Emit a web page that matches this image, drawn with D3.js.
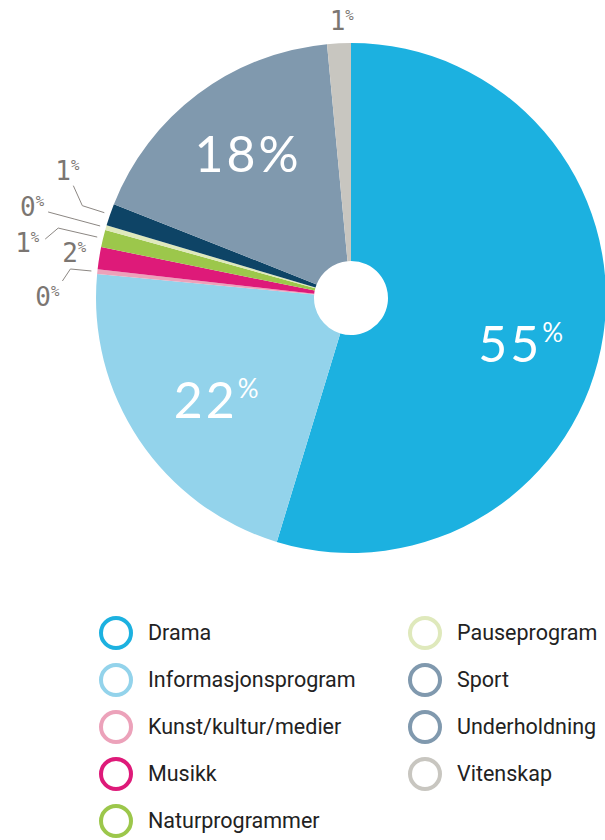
<!DOCTYPE html>
<html>
<head>
<meta charset="utf-8">
<script src="https://cdn.jsdelivr.net/npm/d3@7"></script>
<style>
  body { margin: 0; background: #fff; }
  svg { display: block; }
</style>
</head>
<body>
<div id="chart"></div>
<script>
// data (share of hours, %)
var categories = ["Drama", "Informasjonsprogram", "Kunst/kultur/medier", "Musikk",
  "Naturprogrammer", "Pauseprogram", "Sport", "Underholdning", "Vitenskap"];
var shares = [54.7, 21.8, 0.3, 1.4, 1.1, 0.3, 1.4, 17.5, 1.5];
var labels = ["55", "22", "0", "2", "1", "0", "1", "18", "1"];

var sliceColors = ["#1cb1e0", "#93d3eb", "#eca2ba", "#de1a79", "#9cc74b",
  "#dfe9bc", "#0e4466", "#8099ae", "#c8c6c0"];
var legendColors = ["#1cb1e0", "#93d3eb", "#eca2ba", "#de1a79", "#9cc74b",
  "#dfe9bc", "#8099ae", "#8099ae", "#c8c6c0"];

// inside labels: nudge from the arc centroid
var insideNudge = [[-2, 38], [12, 23], null, null, null, null, null, [2, 14], null];

// outside labels: offsets from the edge point
// [elbowX, elbowY, endX, endY, labelX, labelY], line drawn only when elbow given
var outside = [
  null,
  null,
  [-21, -2, -29, 10, -44, 35],
  [null, null, null, null, -19, 5],
  [-39, -9, -52, 2, -70, 15],
  [-26, -7, -52, -14, -68, -10],
  [-22, -7, -31, -27, -37, -33],
  null,
  [null, null, null, null, 3, -7]
];

var width = 605, height = 840;
var cx = 351, cy = 298, radius = 255, hole = 37;

var svg = d3.select("#chart").append("svg")
  .attr("width", width)
  .attr("height", height);

var g = svg.append("g").attr("transform", "translate(" + cx + "," + cy + ")");

var pie = d3.pie().sort(null).value(function (d) { return d; });
var arcs = pie(shares);
var arc = d3.arc().innerRadius(hole).outerRadius(radius);

g.selectAll("path.slice")
  .data(arcs)
  .enter()
  .append("path")
  .attr("class", "slice")
  .attr("d", arc)
  .attr("fill", function (d, i) { return sliceColors[i]; });

// big inside labels
var labelArc = d3.arc().innerRadius(175).outerRadius(175);
var inside = arcs.filter(function (d, i) { return insideNudge[i]; });

var big = g.selectAll("text.big")
  .data(inside)
  .enter()
  .append("text")
  .attr("class", "big")
  .attr("transform", function (d) {
    var c = labelArc.centroid(d), n = insideNudge[d.index];
    return "translate(" + (c[0] + n[0]) + "," + (c[1] + n[1]) + ")";
  })
  .attr("text-anchor", "middle")
  .attr("fill", "#fff")
  .style("font-family", "Lato, 'Open Sans', sans-serif")
  .style("font-weight", 400)
  .style("font-size", "50px")
  .style("letter-spacing", "3px");

big.append("tspan").text(function (d) { return labels[d.index]; });
big.append("tspan")
  .attr("dy", function (d) { return labels[d.index] === "18" ? 0 : -20; })
  .style("font-size", function (d) { return labels[d.index] === "18" ? "50px" : "26px"; })
  .text("%");

// small outside labels with leader lines
var small = arcs.filter(function (d, i) { return outside[i]; });

small.forEach(function (d) {
  var o = outside[d.index];
  var mid = (d.startAngle + d.endAngle) / 2;
  var p = d3.pointRadial(mid, radius + 6);
  if (o[0] !== null) {
    g.append("path")
      .attr("d", d3.line()([p, [p[0] + o[0], p[1] + o[1]], [p[0] + o[2], p[1] + o[3]]]))
      .attr("fill", "none")
      .attr("stroke", "#8c8783")
      .attr("stroke-width", 1);
  }
  var t = g.append("text")
    .attr("x", p[0] + o[4])
    .attr("y", p[1] + o[5])
    .attr("text-anchor", "middle")
    .attr("fill", "#7b7672")
    .style("font-family", "'DejaVu Sans Mono', monospace")
    .style("font-size", "26px");
  t.append("tspan").text(labels[d.index]);
  t.append("tspan").attr("dy", -10).style("font-size", "14px").text("%");
});

// legend, two columns
var legend = svg.append("g");
var rows = 5, rowH = 47;
var item = legend.selectAll("g.item")
  .data(categories)
  .enter()
  .append("g")
  .attr("class", "item")
  .attr("transform", function (d, i) {
    var col = Math.floor(i / rows), row = i % rows;
    return "translate(" + (col === 0 ? 116 : 425) + "," + (633 + row * rowH) + ")";
  });

item.append("circle")
  .attr("r", 15)
  .attr("fill", "none")
  .attr("stroke", function (d, i) { return legendColors[i]; })
  .attr("stroke-width", 4);

item.append("text")
  .attr("x", 32)
  .attr("y", 7)
  .attr("fill", "#222")
  .style("font-family", "Roboto, sans-serif")
  .style("font-size", "21.5px")
  .text(function (d) { return d; });
</script>
</body>
</html>
